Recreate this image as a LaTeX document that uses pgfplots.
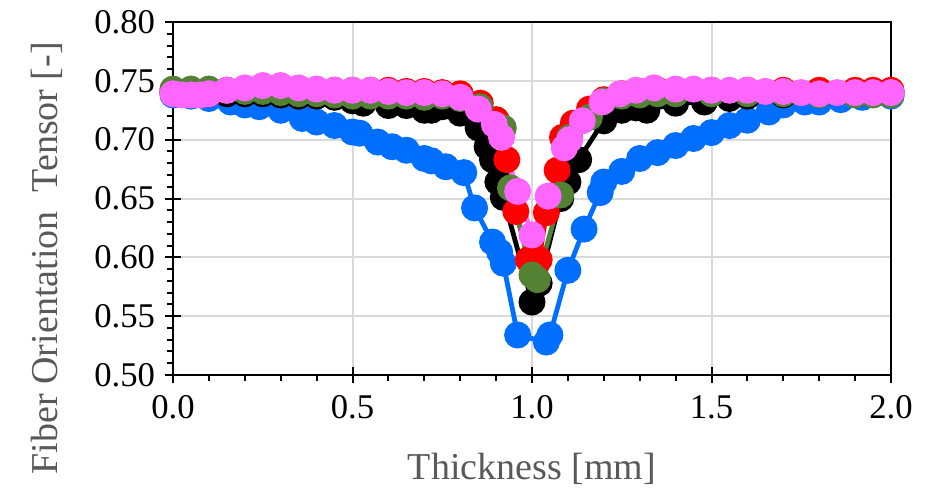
\documentclass[border=0pt]{standalone}
\usepackage{fontspec}
\setmainfont{Liberation Serif}
\usepackage{pgfplots}
\pgfplotsset{compat=1.18}
\usetikzlibrary{calc}

\definecolor{cblue}{HTML}{006EFF}
\definecolor{cgreen}{HTML}{548235}
\definecolor{cpink}{HTML}{FF66FF}
\definecolor{labgray}{HTML}{595959}
\definecolor{gridgray}{HTML}{D9D9D9}

\begin{document}
\begin{tikzpicture}
\begin{axis}[
    scale only axis,
    width=538.5pt,
    height=264.75pt,
    xmin=0, xmax=2,
    ymin=0.5, ymax=0.8,
    xtick={0,0.5,1,1.5,2},
    ytick={0.5,0.55,0.6,0.65,0.7,0.75,0.8},
    minor tick num=4,
    tick pos=left,
    tick align=center,
    major tick length=12pt,
    minor tick length=4.5pt,
    minor x tick style={yshift=-2.25pt},
    minor y tick style={xshift=-2.25pt},
    tick style={black, line width=1.5pt},
    axis line style={black, line width=2pt},
    grid=major,
    major grid style={gridgray, line width=1.5pt},
    xticklabel style={/pgf/number format/fixed, /pgf/number format/fixed zerofill, /pgf/number format/precision=1, yshift=-6pt},
    yticklabel style={/pgf/number format/fixed, /pgf/number format/fixed zerofill, /pgf/number format/precision=2, xshift=-4pt},
    /pgf/number format/assume math mode=true,
    ticklabel style={font=\fontsize{26}{30}\selectfont},
    xlabel={Thickness [mm]},
    ylabel={Fiber Orientation\ \ Tensor [-]},
    label style={font=\fontsize{28.5}{32}\selectfont, text=labgray},
    xlabel style={at={(axis description cs:0.5,-0.265)}, anchor=center},
    ylabel style={at={(axis description cs:-0.1755,0.331)}, anchor=center},
    clip=false,
    every axis plot/.append style={line width=3.6pt, mark=*, mark size=8.3pt},
]
% blue
\addplot[cblue, mark options={fill=cblue, draw=cblue}] coordinates {
(0.00,0.738)(0.05,0.737)(0.10,0.735)(0.16,0.732)(0.20,0.7295)(0.24,0.728)
(0.30,0.725)(0.36,0.718)(0.40,0.715)(0.45,0.712)(0.50,0.7065)(0.52,0.7055)
(0.57,0.698)(0.61,0.694)(0.65,0.691)(0.70,0.684)(0.72,0.682)(0.76,0.677)
(0.81,0.672)(0.84,0.642)(0.89,0.613)(0.91,0.6045)(0.92,0.595)(0.96,0.534)
(1.04,0.528)(1.05,0.534)(1.10,0.589)(1.145,0.624)(1.19,0.655)(1.20,0.664)
(1.25,0.673)(1.30,0.684)(1.35,0.689)(1.40,0.695)(1.45,0.701)(1.50,0.706)
(1.55,0.712)(1.60,0.7165)(1.66,0.7235)(1.70,0.7295)(1.76,0.732)(1.80,0.732)
(1.86,0.734)(1.92,0.736)(2.00,0.737)
};
% black
\addplot[black, mark options={fill=black, draw=black}] coordinates {
(0.00,0.740)(0.05,0.740)(0.10,0.739)(0.15,0.739)(0.20,0.739)(0.25,0.739)
(0.30,0.738)(0.35,0.737)(0.40,0.737)(0.45,0.736)(0.50,0.733)(0.53,0.731)
(0.60,0.729)(0.65,0.729)(0.70,0.725)(0.72,0.725)(0.75,0.728)(0.80,0.7225)
(0.85,0.710)(0.875,0.694)(0.89,0.683)(0.905,0.664)(0.92,0.651)(1.00,0.562)
(1.02,0.578)(1.08,0.650)(1.10,0.664)(1.13,0.683)(1.20,0.716)(1.25,0.725)
(1.29,0.727)(1.32,0.725)(1.40,0.731)(1.48,0.732)(1.55,0.735)(1.60,0.737)
(1.70,0.738)(1.80,0.739)(1.90,0.740)(2.00,0.740)
};
% red
\addplot[red, mark options={fill=red, draw=red}] coordinates {
(0.00,0.742)(0.05,0.742)(0.10,0.742)(0.15,0.742)(0.20,0.742)(0.25,0.742)
(0.30,0.742)(0.35,0.742)(0.40,0.742)(0.45,0.742)(0.50,0.742)(0.55,0.742)
(0.60,0.742)(0.65,0.741)(0.70,0.741)(0.75,0.740)(0.80,0.739)(0.856,0.731)
(0.90,0.717)(0.93,0.683)(0.955,0.639)(0.99,0.598)(1.01,0.592)(1.02,0.598)
(1.04,0.638)(1.07,0.674)(1.085,0.702)(1.115,0.714)(1.16,0.726)(1.20,0.734)
(1.25,0.739)(1.30,0.741)(1.35,0.742)(1.40,0.742)(1.50,0.742)(1.60,0.742)
(1.70,0.742)(1.80,0.742)(1.90,0.742)(1.95,0.742)(2.00,0.742)
};
% green
\addplot[cgreen, mark options={fill=cgreen, draw=cgreen}] coordinates {
(0.00,0.743)(0.05,0.743)(0.10,0.743)(0.15,0.742)(0.20,0.741)(0.25,0.741)
(0.30,0.740)(0.35,0.739)(0.40,0.739)(0.45,0.738)(0.50,0.737)(0.55,0.737)
(0.60,0.737)(0.65,0.737)(0.70,0.736)(0.75,0.737)(0.80,0.735)(0.855,0.728)
(0.92,0.710)(0.94,0.659)(1.00,0.585)(1.015,0.581)(1.08,0.653)(1.105,0.702)
(1.16,0.719)(1.20,0.733)(1.25,0.737)(1.30,0.738)(1.35,0.739)(1.40,0.739)
(1.50,0.739)(1.60,0.739)(1.70,0.739)(1.80,0.738)(1.90,0.738)(1.95,0.738)
(2.00,0.738)
};
% pink
\addplot[cpink, mark options={fill=cpink, draw=cpink}] coordinates {
(0.00,0.739)(0.025,0.738)(0.05,0.738)(0.075,0.738)(0.10,0.739)(0.15,0.742)
(0.20,0.744)(0.25,0.746)(0.30,0.746)(0.35,0.744)(0.40,0.743)(0.45,0.742)
(0.50,0.742)(0.55,0.742)(0.60,0.741)(0.65,0.740)(0.70,0.740)(0.75,0.739)
(0.80,0.736)(0.85,0.726)(0.895,0.713)(0.915,0.702)(0.96,0.656)(1.00,0.619)
(1.045,0.652)(1.09,0.693)(1.105,0.700)(1.14,0.716)(1.195,0.732)(1.245,0.739)
(1.29,0.742)(1.34,0.744)(1.40,0.743)(1.45,0.743)(1.50,0.742)(1.55,0.742)
(1.60,0.742)(1.65,0.741)(1.70,0.741)(1.75,0.740)(1.80,0.739)(1.85,0.740)
(1.90,0.740)(1.95,0.740)(2.00,0.740)
};
\end{axis}
\pgfresetboundingbox
\path ($(current axis.south west)+(-129.75pt,-90.75pt)$) rectangle ($(current axis.north east)+(37.5pt,16.5pt)$);
\end{tikzpicture}
\end{document}
